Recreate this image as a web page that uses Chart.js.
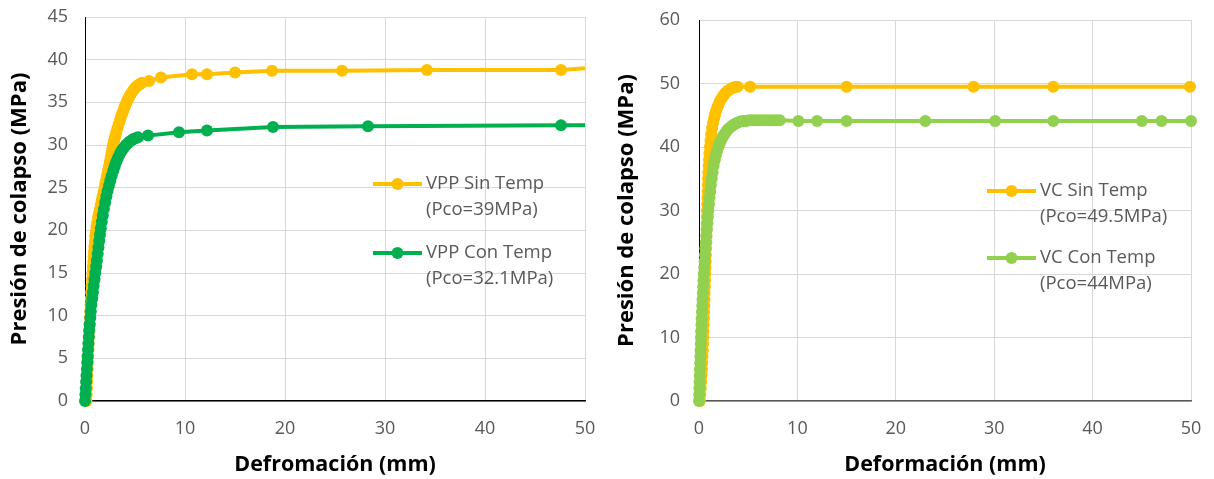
<!DOCTYPE html>
<html>
<head>
<meta charset="utf-8">
<title>Presión de colapso vs deformación</title>
<script src="https://cdn.jsdelivr.net/npm/chart.js@4/dist/chart.umd.min.js"></script>
<style>
  body { margin: 0; background: #fff; }
  .wrap { position: relative; width: 1214px; height: 479px; }
  canvas { position: absolute; top: 0; }
  #chartVPP { left: 0; }
  #chartVC { left: 607px; }
</style>
</head>
<body>
<div class="wrap">
  <canvas id="chartVPP" width="607" height="479"></canvas>
  <canvas id="chartVC" width="607" height="479"></canvas>
</div>
<script>
// ---- datos: deformación (mm) y presión (MPa) ----
// VPP sin temperatura
const vppSinDef = [
    0.15, 0.17, 0.20, 0.22, 0.25, 0.27, 0.30, 0.33, 0.35, 0.37,
    0.40, 0.43, 0.46, 0.49, 0.52, 0.55, 0.59, 0.62, 0.66, 0.70,
    0.75, 0.79, 0.83, 0.86, 0.90, 0.94, 0.99, 1.03, 1.08, 1.15,
    1.22, 1.31, 1.40, 1.49, 1.58, 1.67, 1.76, 1.85, 1.95, 2.04,
    2.13, 2.22, 2.31, 2.40, 2.48, 2.56, 2.64, 2.72, 2.80, 2.91,
    3.02, 3.13, 3.25, 3.37, 3.50, 3.61, 3.72, 3.83, 3.95, 4.05,
    4.15, 4.27, 4.40, 4.52, 4.65, 4.80, 4.95, 5.10, 5.25, 5.38,
    5.50, 5.70, 6.40, 7.60, 10.7, 12.2, 15.0, 18.7, 25.7, 34.2,
    47.6, 50.0];
const vppSinPres = [
    0, 0.75, 1.5, 2.25, 3, 3.75, 4.5, 5.25, 6, 6.75,
    7.5, 8.25, 9, 9.75, 10.5, 11.25, 12, 12.75, 13.5, 14.25,
    15, 15.7, 16.3, 16.9, 17.5, 18.1, 18.7, 19.3, 19.8, 20.4,
    20.9, 21.5, 22, 22.5, 23, 23.5, 24, 24.5, 25, 25.5,
    26, 26.5, 27, 27.5, 28, 28.5, 29, 29.5, 30, 30.5,
    31, 31.5, 32, 32.45, 32.9, 33.3, 33.7, 34.05, 34.4, 34.7,
    35, 35.3, 35.6, 35.85, 36.1, 36.35, 36.6, 36.8, 36.95, 37.05,
    37.15, 37.3, 37.5, 37.9, 38.3, 38.3, 38.5, 38.7, 38.7, 38.8,
    38.8, 39.0];

// VPP con temperatura
const vppConDef = [
    0, 0.04, 0.08, 0.11, 0.15, 0.19, 0.23, 0.26, 0.30, 0.34,
    0.38, 0.42, 0.47, 0.53, 0.58, 0.64, 0.72, 0.79, 0.87, 0.95,
    1.03, 1.12, 1.19, 1.27, 1.34, 1.42, 1.50, 1.58, 1.68, 1.78,
    1.89, 2.02, 2.14, 2.26, 2.39, 2.53, 2.67, 2.83, 2.97, 3.12,
    3.28, 3.44, 3.60, 3.76, 3.92, 4.10, 4.28, 4.48, 4.66, 4.85,
    5.05, 5.30, 6.30, 9.40, 12.2, 18.8, 28.3, 47.6, 50.0];
const vppConPres = [
    0, 0.75, 1.5, 2.25, 3, 3.75, 4.5, 5.25, 6, 6.75,
    7.5, 8.25, 9, 9.75, 10.5, 11.25, 12, 12.75, 13.5, 14.25,
    15, 15.75, 16.5, 17.25, 18, 18.75, 19.5, 20.25, 21, 21.75,
    22.5, 23.25, 24, 24.6, 25.2, 25.8, 26.4, 27, 27.5, 28,
    28.45, 28.85, 29.2, 29.5, 29.75, 30.0, 30.2, 30.4, 30.55, 30.7,
    30.8, 30.9, 31.1, 31.5, 31.7, 32.1, 32.2, 32.3, 32.3];

// VC sin temperatura
const vcSinDef = [
    0.10, 0.14, 0.18, 0.22, 0.26, 0.30, 0.33, 0.36, 0.39, 0.41,
    0.44, 0.46, 0.48, 0.50, 0.52, 0.54, 0.56, 0.58, 0.60, 0.62,
    0.64, 0.66, 0.68, 0.70, 0.72, 0.74, 0.76, 0.77, 0.79, 0.80,
    0.82, 0.84, 0.86, 0.88, 0.90, 0.92, 0.95, 0.98, 1.02, 1.06,
    1.11, 1.17, 1.24, 1.33, 1.43, 1.53, 1.63, 1.74, 1.86, 1.98,
    2.12, 2.27, 2.43, 2.60, 2.78, 2.97, 3.17, 3.40, 3.65, 3.90,
    5.20, 15.0, 27.9, 36.0, 49.9];
const vcSinPres = [
    0, 1, 2, 3, 4, 5, 6, 7, 8, 9,
    10, 11, 12, 13, 14, 15, 16, 17, 18, 19,
    20, 21, 22, 23, 24, 25, 26, 27, 28, 29,
    30, 31, 32, 33, 34, 35, 36, 37, 38, 39,
    40, 41, 42, 43, 43.8, 44.5, 45.1, 45.7, 46.2, 46.7,
    47.2, 47.6, 48.0, 48.35, 48.65, 48.9, 49.1, 49.3, 49.45, 49.5,
    49.5, 49.5, 49.5, 49.5, 49.5];

// VC con temperatura
const vcConDef = [
    0, 0.02, 0.04, 0.06, 0.08, 0.10, 0.12, 0.14, 0.16, 0.18,
    0.20, 0.22, 0.25, 0.27, 0.30, 0.33, 0.36, 0.39, 0.42, 0.45,
    0.49, 0.53, 0.57, 0.61, 0.65, 0.70, 0.75, 0.80, 0.85, 0.90,
    0.95, 1.01, 1.07, 1.14, 1.21, 1.29, 1.38, 1.48, 1.59, 1.71,
    1.84, 1.97, 2.11, 2.26, 2.42, 2.58, 2.75, 2.93, 3.12, 3.32,
    3.52, 3.74, 3.96, 4.20, 4.50, 4.80, 5.10, 5.40, 5.75, 6.10,
    6.45, 6.80, 7.15, 7.50, 7.85, 8.20, 10.1, 12.0, 15.0, 23.0,
    30.1, 36.0, 45.0, 47.0, 50.0];
const vcConPres = [
    0, 1, 2, 3, 4, 5, 6, 7, 8, 9,
    10, 11, 12, 13, 14, 15, 16, 17, 18, 19,
    20, 21, 22, 23, 24, 25, 26, 27, 28, 29,
    30, 31, 32, 33, 34, 35, 36, 37, 37.9, 38.7,
    39.4, 40.0, 40.6, 41.1, 41.6, 42.0, 42.4, 42.75, 43.05, 43.3,
    43.5, 43.7, 43.85, 44.0, 44.1, 44.1, 44.2, 44.2, 44.2, 44.2,
    44.2, 44.2, 44.2, 44.2, 44.2, 44.2, 44.1, 44.1, 44.1, 44.1,
    44.1, 44.1, 44.1, 44.1, 44.1];

const vppNames = ['VPP Sin Temp', 'VPP Con Temp'];
const vppPco = ['(Pco=39MPa)', '(Pco=32.1MPa)'];
const vcNames = ['VC Sin Temp', 'VC Con Temp'];
const vcPco = ['(Pco=49.5MPa)', '(Pco=44MPa)'];

const xTitleVPP = 'Defromación (mm)';
const xTitleVC = 'Deformación (mm)';
const yTitle = 'Presión de colapso (MPa)';

const AMARILLO = '#FFC000';
const VERDE = '#00B050';
const VERDE_CLARO = '#92D050';
const FONT = '"Open Sans", "Noto Sans", sans-serif';
const RADIO = 6;

function toPoints(xs, ys) {
    return xs.map((x, i) => ({ x: x, y: ys[i] }));
}

// serie con línea y marcadores; lastMarker=false oculta el último punto (solo prolonga la línea)
function serie(label, pco, xs, ys, color, order, lastMarker) {
    const last = xs.length - 1;
    return {
        label: label,
        pco: pco,
        data: toPoints(xs, ys),
        borderColor: color,
        backgroundColor: color,
        borderWidth: 4,
        pointRadius: (c) => (!lastMarker && c.dataIndex === last) ? 0 : RADIO,
        pointBorderWidth: 0,
        pointBackgroundColor: color,
        tension: 0,
        clip: false,
        order: order,
    };
}

// leyenda dentro del área del gráfico: línea con marcador y dos renglones de texto
const leyendaInterna = {
    id: 'leyendaInterna',
    afterDraw(chart, args, opts) {
        const { ctx, chartArea } = chart;
        ctx.save();
        opts.items.forEach((item) => {
            const ds = chart.data.datasets[item.dataset];
            const x0 = chartArea.left + opts.x;
            const y0 = chartArea.top + item.y;
            ctx.strokeStyle = ds.borderColor;
            ctx.lineWidth = 4;
            ctx.beginPath();
            ctx.moveTo(x0, y0);
            ctx.lineTo(x0 + opts.lineLen, y0);
            ctx.stroke();
            ctx.fillStyle = ds.borderColor;
            ctx.beginPath();
            ctx.arc(x0 + opts.lineLen / 2, y0, RADIO, 0, Math.PI * 2);
            ctx.fill();
            ctx.fillStyle = '#595959';
            ctx.font = '18.5px ' + FONT;
            ctx.textBaseline = 'middle';
            ctx.textAlign = 'left';
            ctx.fillText(ds.label, x0 + opts.lineLen + 4, y0);
            ctx.fillText(ds.pco, x0 + opts.lineLen + 4, y0 + 26);
        });
        ctx.restore();
    }
};

function opciones(yMax, yStep, xTitle, yWidth, yTickPad, pad, legendY, xAxisColor) {
    return {
        responsive: false,
        animation: false,
        events: [],
        layout: { padding: pad },
        plugins: {
            legend: { display: false },
            tooltip: { enabled: false },
            leyendaInterna: { x: 288, lineLen: 49, items: [{ dataset: 0, y: legendY[0] }, { dataset: 1, y: legendY[1] }] },
        },
        scales: {
            x: {
                type: 'linear',
                min: 0,
                max: 50,
                ticks: { stepSize: 10, color: '#595959', font: { family: FONT, size: 18 }, padding: 17 },
                grid: { color: '#d9d9d9', drawTicks: false },
                border: { color: xAxisColor, width: 1.5 },
                title: { display: true, text: xTitle, color: '#000', font: { family: FONT, size: 21.5, weight: 'bold' }, padding: { top: 0, bottom: 1 } },
                // alto fijo del eje; el margen lo da layout.padding
                afterFit: (s) => { s.height = 78; s.paddingLeft = 0; s.paddingRight = 0; },
            },
            y: {
                min: 0,
                max: yMax,
                ticks: { stepSize: yStep, color: '#595959', font: { family: FONT, size: 18 }, padding: yTickPad },
                grid: { color: '#d9d9d9', drawTicks: false },
                border: { color: '#000', width: 1 },
                title: { display: true, text: yTitle, color: '#000', font: { family: FONT, size: 22, weight: 'bold' }, padding: { top: 7, bottom: 0 } },
                afterFit: (s) => { s.width = yWidth; s.paddingTop = 0; s.paddingBottom = 0; },
            },
        },
    };
}

new Chart(document.getElementById('chartVPP'), {
    type: 'line',
    data: {
        datasets: [
            serie(vppNames[0], vppPco[0], vppSinDef, vppSinPres, AMARILLO, 1, false),
            serie(vppNames[1], vppPco[1], vppConDef, vppConPres, VERDE, 0, false),
        ],
    },
    options: opciones(45, 5, xTitleVPP, 85, 17, { top: 17, right: 22, bottom: 0, left: 0 }, [167, 236], '#000'),
    plugins: [leyendaInterna],
});

new Chart(document.getElementById('chartVC'), {
    type: 'line',
    data: {
        datasets: [
            serie(vcNames[0], vcPco[0], vcSinDef, vcSinPres, AMARILLO, 1, true),
            serie(vcNames[1], vcPco[1], vcConDef, vcConPres, VERDE_CLARO, 0, true),
        ],
    },
    options: opciones(60, 10, xTitleVC, 92, 19, { top: 20, right: 23, bottom: 0, left: 0 }, [171, 238], '#595959'),
    plugins: [leyendaInterna],
});
</script>
</body>
</html>
